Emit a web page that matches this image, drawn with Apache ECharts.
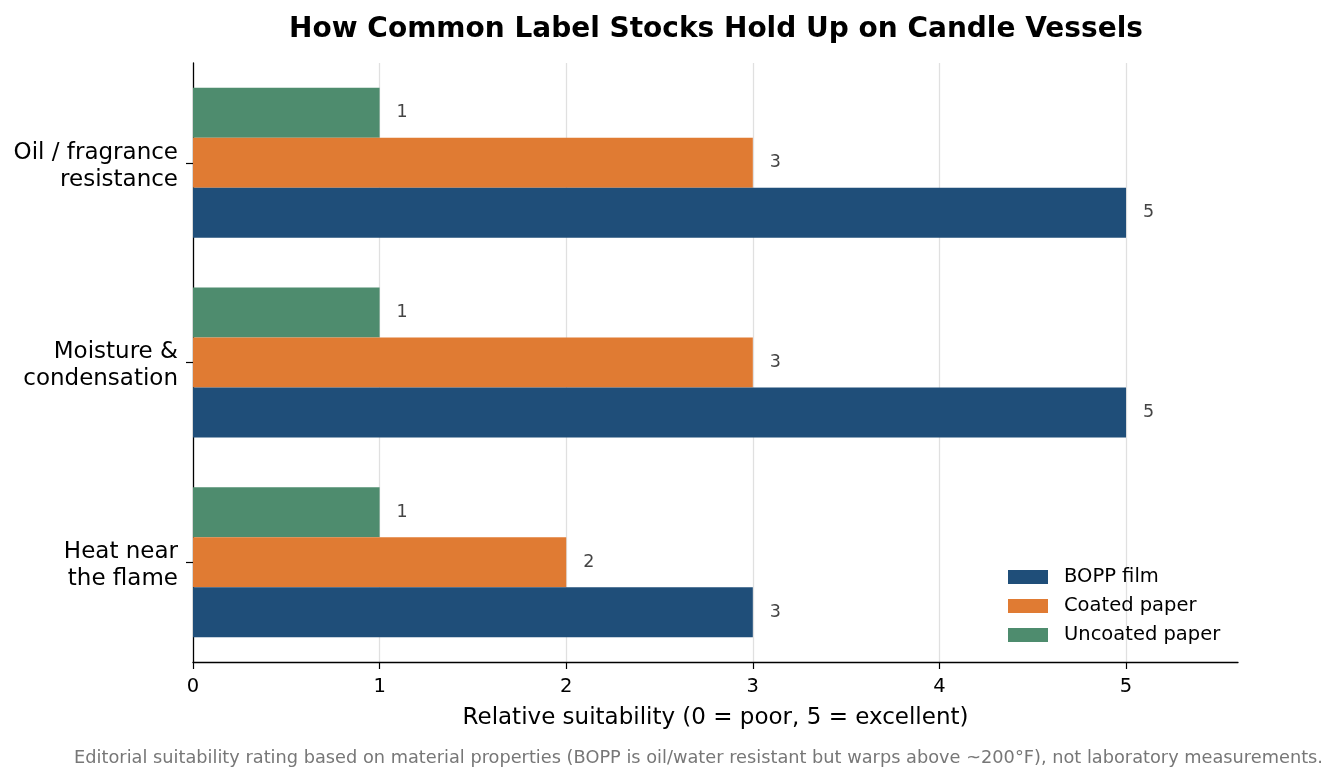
<!DOCTYPE html>
<html>
<head>
<meta charset="utf-8">
<script src="https://cdn.jsdelivr.net/npm/echarts@6/dist/echarts.min.js"></script>
<style>html,body{margin:0;padding:0;background:#fff;}#c{width:1339px;height:783px;}</style>
</head>
<body>
<div id="c"></div>
<script>
const categories = ['Heat near\nthe flame', 'Moisture &\ncondensation', 'Oil / fragrance\nresistance'];
const boppFilm = [3, 5, 5];
const coatedPaper = [2, 3, 3];
const uncoatedPaper = [1, 1, 1];
const xTicks = [0, 1, 2, 3, 4, 5];

const FONT = 'DejaVu Sans';
const chart = echarts.init(document.getElementById('c'), null, {renderer: 'canvas'});
const labelCfg = {show: true, position: 'right', distance: 17, color: '#444', fontSize: 17.5, fontFamily: FONT};
chart.setOption({
  animation: false,
  textStyle: {fontFamily: FONT},
  title: {
    text: 'How Common Label Stocks Hold Up on Candle Vessels',
    left: 716, top: 16, textAlign: 'center', padding: 0,
    textStyle: {fontSize: 28, fontWeight: 'bold', color: '#000', fontFamily: FONT}
  },
  grid: {left: 193, right: 101, top: 63, bottom: 121, containLabel: false},
  legend: {
    orient: 'vertical', left: 1003, top: 562,
    itemWidth: 40, itemHeight: 14, itemGap: 9,
    icon: 'rect',
    textStyle: {fontSize: 19.5, color: '#000', fontFamily: FONT, padding: [0, 0, 0, 11]},
    data: ['BOPP film', 'Coated paper', 'Uncoated paper']
  },
  xAxis: {
    type: 'value', min: 0, max: 5.6, interval: 1,
    name: 'Relative suitability (0 = poor, 5 = excellent)',
    nameLocation: 'middle', nameGap: 45,
    nameTextStyle: {fontSize: 23, color: '#000', fontFamily: FONT},
    axisLine: {show: true, lineStyle: {color: '#000', width: 1.3}},
    axisTick: {show: true, length: 7, lineStyle: {color: '#000', width: 1.2}},
    axisLabel: {fontSize: 19.5, color: '#000', margin: 15, showMaxLabel: false,
      formatter: v => (xTicks.indexOf(v) >= 0 ? String(v) : '')},
    splitLine: {show: true, showMinLine: false, showMaxLine: false, lineStyle: {color: '#e0e0e0', width: 1.3}}
  },
  yAxis: {
    type: 'category', data: categories,
    axisLine: {show: true, lineStyle: {color: '#000', width: 1.3}},
    axisTick: {show: true, alignWithLabel: true, length: 7, lineStyle: {color: '#000', width: 1.2}},
    axisLabel: {
      fontSize: 23, color: '#000', margin: 15, align: 'right',
      formatter: v => '{s| }\n' + v.split('\n').map(t => '{a|' + t + '}').join('\n'),
      rich: {
        s: {fontSize: 1, lineHeight: 7},
        a: {fontSize: 23, lineHeight: 27, color: '#000', fontFamily: FONT, align: 'right'}
      }
    },
    splitLine: {show: false}
  },
  series: [
    {name: 'Uncoated paper', type: 'bar', data: uncoatedPaper, barWidth: 50, barGap: '0%',
      itemStyle: {color: '#4e8c6e'}, label: labelCfg},
    {name: 'Coated paper', type: 'bar', data: coatedPaper, barWidth: 50, barGap: '0%',
      itemStyle: {color: '#e07b33'}, label: labelCfg},
    {name: 'BOPP film', type: 'bar', data: boppFilm, barWidth: 50, barGap: '0%',
      itemStyle: {color: '#1f4e79'}, label: labelCfg}
  ],
  graphic: [{
    type: 'text', right: 16, top: 749,
    style: {text: 'Editorial suitability rating based on material properties (BOPP is oil/water resistant but warps above ~200°F), not laboratory measurements.',
      fill: '#777', fontSize: 17.75, fontFamily: FONT}
  }]
});
</script>
</body>
</html>
